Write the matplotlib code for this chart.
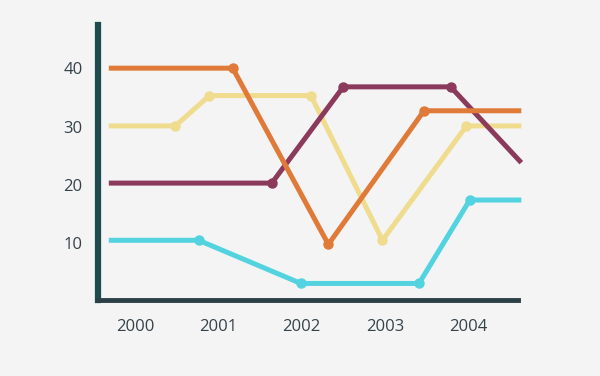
import matplotlib.pyplot as plt

# data (x in fractional years)
orange_x = [1999.68, 2001.17, 2002.32, 2003.47, 2004.64]
orange_y = [40.0, 40.0, 9.8, 32.7, 32.7]

purple_x = [1999.68, 2001.64, 2002.50, 2003.79, 2004.64]
purple_y = [20.3, 20.3, 36.8, 36.8, 23.8]

yellow_x = [1999.68, 2000.48, 2000.89, 2002.11, 2002.97, 2003.98, 2004.64]
yellow_y = [30.1, 30.1, 35.3, 35.3, 10.5, 30.1, 30.1]

cyan_x = [1999.68, 2000.76, 2001.99, 2003.41, 2004.02, 2004.64]
cyan_y = [10.5, 10.5, 3.1, 3.1, 17.4, 17.4]

years = [2000, 2001, 2002, 2003, 2004]
yticks = [10, 20, 30, 40]

bg = "#f4f4f4"
spine_col = "#1f4a50"
text_col = "#34434a"

plt.rcParams["font.family"] = ["Open Sans", "DejaVu Sans"]

fig = plt.figure(figsize=(6, 3.76), dpi=100, facecolor=bg)
ax = fig.add_axes([0.1633, 0.2021, 0.70, 0.7314], facecolor=bg)

series = [
    (cyan_x, cyan_y, "#52d3df"),
    (yellow_x, yellow_y, "#f0dc8e"),
    (purple_x, purple_y, "#8c3a5c"),
    (orange_x, orange_y, "#e07a38"),
]
for xs, ys, col in series:
    ax.plot(xs, ys, color=col, lw=3.6, solid_capstyle="butt",
            solid_joinstyle="round", clip_on=False)
    ax.plot(xs[1:-1], ys[1:-1], "o", color=col, ms=6.5, clip_on=False)

ax.set_xlim(1999.55, 2004.6)
ax.set_ylim(0.26, 47.4)

for s in ["top", "right"]:
    ax.spines[s].set_visible(False)
ax.spines["left"].set_linewidth(4.5)
ax.spines["left"].set_color(spine_col)
ax.spines["bottom"].set_linewidth(3.5)
ax.spines["bottom"].set_color("#2b3f46")

ax.set_xticks(years)
ax.set_xticklabels([str(y) for y in years])
ax.set_yticks(yticks)
ax.set_yticklabels([str(v) for v in yticks])
ax.tick_params(axis="both", length=0, labelsize=12, colors=text_col)
ax.tick_params(axis="x", pad=14)
ax.tick_params(axis="y", pad=11)

fig.savefig("out.png", dpi=100, facecolor=bg)
